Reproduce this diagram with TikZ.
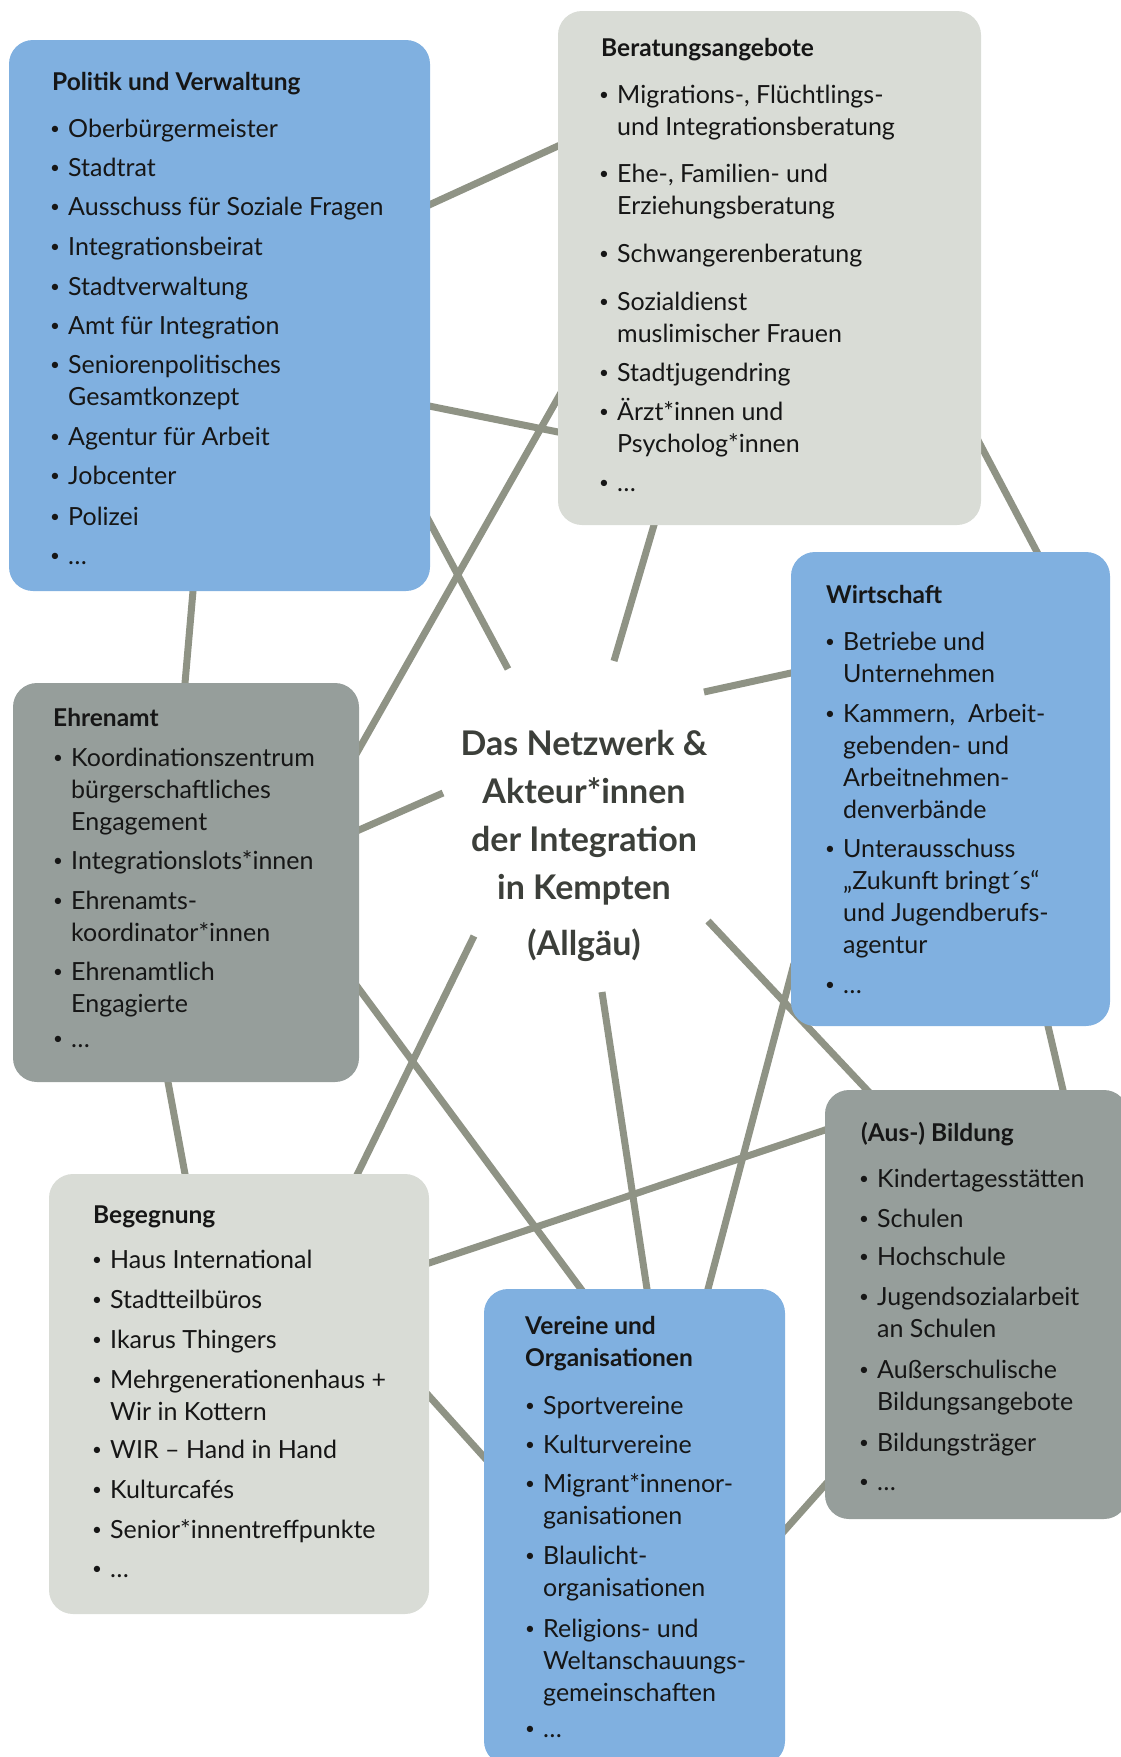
\documentclass[tikz,border=0pt]{standalone}
\usepackage{fontspec}
\setmainfont{Lato}
\usetikzlibrary{calc}
\definecolor{cblue}{RGB}{128,176,224}
\definecolor{clight}{RGB}{217,220,214}
\definecolor{cdark}{RGB}{150,158,155}
\definecolor{cline}{RGB}{143,147,133}
\definecolor{ctitle}{RGB}{60,63,58}
\definecolor{ctext}{RGB}{22,22,22}
\newcommand\netitem[4]{%
  \node[bul] (#3b) at ({#1-13},#2) {\raisebox{2.2pt}{\fontsize{17}{17}\selectfont •}};
  \node[itm] (#3) at (#1,#2) {\parbox[t]{500pt}{\raggedright #4}};
}
\begin{document}
\begin{tikzpicture}[x=1pt,y=-1pt,
  box/.style={rectangle, rounded corners=24pt, inner sep=0pt, draw=none},
  conn/.style={draw=cline, line width=7pt},
  ext/.style={shorten <=-12pt, shorten >=-12pt},
  extA/.style={shorten <=-12pt},
  hd/.style={anchor=base west, inner sep=0pt, font=\fontsize{24.5}{32.3}\selectfont\bfseries, text=ctext},
  itm/.style={anchor=base west, inner sep=0pt, font=\fontsize{25}{32.3}\selectfont, text=ctext},
  bul/.style={anchor=base, inner sep=0pt, font=\fontsize{25}{32.3}\selectfont, text=ctext},
  ctr/.style={anchor=base, inner sep=0pt, font=\fontsize{34}{40}\selectfont\bfseries, text=ctitle},
]
\useasboundingbox (0,0) rectangle (1121,1757);

% connector end points
\coordinate (l1a) at (429,205);  \coordinate (l1b) at (558,146);
\coordinate (l2a) at (429,406);  \coordinate (l2b) at (558,432);
\coordinate (l3a) at (429,521);  \coordinate (l3b) at (508,669);
\coordinate (l4a) at (193,591);  \coordinate (l4b) at (185,683);
\coordinate (l5a) at (359,749);  \coordinate (l5b) at (558,398);
\coordinate (l6a) at (359,830);  \coordinate (l6b) at (443,793);
\coordinate (l7a) at (359,989);  \coordinate (l7b) at (581,1289);
\coordinate (l8a) at (168,1082); \coordinate (l8b) at (185,1174);
\coordinate (l9a) at (356,1177); \coordinate (l9b) at (474,936);
\coordinate (l10a) at (429,1263); \coordinate (l10b) at (825,1130);
\coordinate (l11a) at (429,1396); \coordinate (l11b) at (484,1457);
\coordinate (l12a) at (654,525); \coordinate (l12b) at (614,661);
\coordinate (l13a) at (981,446); \coordinate (l13b) at (1037,552);
\coordinate (l14a) at (791,673); \coordinate (l14b) at (704,692);
\coordinate (l15a) at (867,1090); \coordinate (l15b) at (708,921);
\coordinate (l16a) at (647,1289); \coordinate (l16b) at (602,992);
\coordinate (l17a) at (708,1289); \coordinate (l17b) at (791,975);
\coordinate (l18a) at (1048,1026); \coordinate (l18b) at (1063,1090);
\coordinate (l19a) at (785,1530); \coordinate (l19b) at (825,1485);

\draw[conn,ext] (l1a) -- (l1b);
\draw[conn,ext] (l2a) -- (l2b);
\draw[conn,extA] (l3a) -- (l3b);
\draw[conn,ext] (l4a) -- (l4b);
\draw[conn,ext] (l5a) -- (l5b);
\draw[conn,extA] (l6a) -- (l6b);
\draw[conn,ext] (l7a) -- (l7b);
\draw[conn,ext] (l8a) -- (l8b);
\draw[conn,extA] (l9a) -- (l9b);
\draw[conn,ext] (l10a) -- (l10b);
\draw[conn,ext] (l11a) -- (l11b);
\draw[conn,extA] (l12a) -- (l12b);
\draw[conn,ext] (l13a) -- (l13b);
\draw[conn,extA] (l14a) -- (l14b);
\draw[conn,extA] (l15a) -- (l15b);
\draw[conn,extA] (l16a) -- (l16b);
\draw[conn,ext] (l17a) -- (l17b);
\draw[conn,ext] (l18a) -- (l18b);
\draw[conn,ext] (l19a) -- (l19b);

% boxes
\node[box, fill=cblue, minimum width=421pt, minimum height=551pt] (pol) at (219.5,315.5) {};
\node[box, fill=clight, minimum width=423pt, minimum height=514pt] (ber) at (769.5,268) {};
\node[box, fill=cblue, minimum width=319pt, minimum height=474pt] (wir) at (950.5,789) {};
\node[box, fill=cdark, minimum width=346pt, minimum height=399pt] (ehr) at (186,882.5) {};
\node[box, fill=clight, minimum width=380pt, minimum height=440pt] (beg) at (239,1394) {};
\node[box, fill=cblue, minimum width=301pt, minimum height=476pt] (ver) at (634.5,1527) {};
\node[box, fill=cdark, minimum width=303pt, minimum height=429pt] (bil) at (976.5,1304.5) {};

% center
\node[ctr] (c1) at (584,755) {Das Netzwerk \&};
\node[ctr] (c2) at (584,803) {Akteur*innen};
\node[ctr] (c3) at (584,851) {der Integration};
\node[ctr] (c4) at (584,899) {in Kempten};
\node[ctr] (c5) at (584,955) {(Allgäu)};

% Politik und Verwaltung
\node[hd] (polt) at (52,90) {Politik und Verwaltung};
\netitem{68}{137}{pol1}{Oberbürgermeister}
\netitem{68}{176}{pol2}{Stadtrat}
\netitem{68}{215}{pol3}{Ausschuss für Soziale Fragen}
\netitem{68}{255}{pol4}{Integrationsbeirat}
\netitem{68}{295}{pol5}{Stadtverwaltung}
\netitem{68}{334}{pol6}{Amt für Integration}
\netitem{68}{373}{pol7}{Seniorenpolitisches\\Gesamtkonzept}
\netitem{68}{445}{pol8}{Agentur für Arbeit}
\netitem{68}{484}{pol9}{Jobcenter}
\netitem{68}{525}{pol10}{Polizei}
\netitem{68}{564}{pol11}{…}

% Beratungsangebote
\node[hd] (bert) at (601,56) {Beratungsangebote};
\netitem{617}{103}{ber1}{Migrations-, Flüchtlings-\\und Integrationsberatung}
\netitem{617}{182}{ber2}{Ehe-, Familien- und\\Erziehungsberatung}
\netitem{617}{262}{ber3}{Schwangerenberatung}
\netitem{617}{310}{ber4}{Sozialdienst\\muslimischer Frauen}
\netitem{617}{381}{ber5}{Stadtjugendring}
\netitem{617}{420}{ber6}{Ärzt*innen und\\Psycholog*innen}
\netitem{617}{491}{ber7}{…}

% Wirtschaft
\node[hd] (wirt) at (826,603) {Wirtschaft};
\netitem{843}{650}{wir1}{Betriebe und\\Unternehmen}
\netitem{843}{722}{wir2}{Kammern,\ \ Arbeit-\\gebenden- und\\Arbeitnehmen-\\denverbände}
\netitem{843}{857}{wir3}{Unterausschuss\\„Zukunft bringt´s“\\und Jugendberufs-\\agentur}
\netitem{843}{993}{wir4}{…}

% Ehrenamt
\node[hd] (ehrt) at (53,726) {Ehrenamt};
\netitem{71}{766}{ehr1}{Koordinationszentrum\\bürgerschaftliches\\Engagement}
\netitem{71}{869}{ehr2}{Integrationslots*innen}
\netitem{71}{909}{ehr3}{Ehrenamts-\\koordinator*innen}
\netitem{71}{980}{ehr4}{Ehrenamtlich\\Engagierte}
\netitem{71}{1047}{ehr5}{…}

% Begegnung
\node[hd] (begt) at (93,1223) {Begegnung};
\netitem{110}{1268}{beg1}{Haus International}
\netitem{110}{1308}{beg2}{Stadtteilbüros}
\netitem{110}{1348}{beg3}{Ikarus Thingers}
\netitem{110}{1388}{beg4}{Mehrgenerationenhaus +\\Wir in Kottern}
\netitem{110}{1458}{beg5}{WIR – Hand in Hand}
\netitem{110}{1498}{beg6}{Kulturcafés}
\netitem{110}{1538}{beg7}{Senior*innentreffpunkte}
\netitem{110}{1577}{beg8}{…}

% Vereine und Organisationen
\node[hd] (vert) at (525,1334) {\parbox[t]{260pt}{\raggedright Vereine und\\Organisationen}};
\netitem{543}{1414}{ver1}{Sportvereine}
\netitem{543}{1453}{ver2}{Kulturvereine}
\netitem{543}{1492}{ver3}{Migrant*innenor-\\ganisationen}
\netitem{543}{1564}{ver4}{Blaulicht-\\organisationen}
\netitem{543}{1637}{ver5}{Religions- und\\Weltanschauungs-\\gemeinschaften}
\netitem{543}{1737}{ver6}{…}

% (Aus-) Bildung
\node[hd] (bilt) at (861,1141) {(Aus-) Bildung};
\netitem{877}{1187}{bil1}{Kindertagesstätten}
\netitem{877}{1227}{bil2}{Schulen}
\netitem{877}{1265}{bil3}{Hochschule}
\netitem{877}{1305}{bil4}{Jugendsozialarbeit\\an Schulen}
\netitem{877}{1378}{bil5}{Außerschulische\\Bildungsangebote}
\netitem{877}{1451}{bil6}{Bildungsträger}
\netitem{877}{1490}{bil7}{…}
\end{tikzpicture}
\end{document}
